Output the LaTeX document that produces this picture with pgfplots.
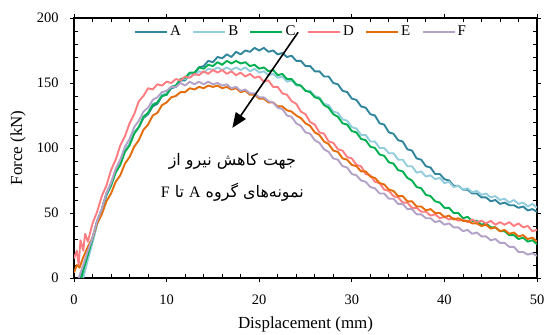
\documentclass[border=0pt]{standalone}
\usepackage{fontspec}
\setmainfont{Liberation Serif}
\newfontfamily\arabicfont[Script=Arabic]{DejaVu Sans}
\TeXXeTstate=1
\usepackage{pgfplots}
\pgfplotsset{compat=1.18}
\usetikzlibrary{arrows.meta,calc}
\definecolor{cA}{HTML}{31859C}
\definecolor{cB}{HTML}{93CDDD}
\definecolor{cC}{HTML}{00B050}
\definecolor{cD}{HTML}{FF7C80}
\definecolor{cE}{HTML}{E46C0A}
\definecolor{cF}{HTML}{B3A2C7}
\begin{document}
\begin{tikzpicture}
\begin{axis}[
  scale only axis, width=463bp, height=260bp,
  xmin=0, xmax=50, ymin=0, ymax=200,
  xtick={0,10,...,50}, ytick={0,50,...,200},
  minor x tick num=4, minor y tick num=4,
  tick align=outside, major tick length=4bp, minor tick length=-4bp,
  tick style={black, line width=0.8bp},
  axis line style={black, line width=1.6bp},
  /pgf/number format/assume math mode=true,
  ticklabel style={font=\fontsize{14.5}{16}\selectfont},
  xticklabel style={yshift=-9bp},
  yticklabel style={xshift=-8bp},
  xlabel={Displacement (mm)}, ylabel={Force (kN)},
  label style={font=\fontsize{17}{19}\selectfont},
  xlabel style={at={(axis description cs:0.5,-0.177)}, anchor=center},
  ylabel style={at={(axis description cs:-0.121,0.5)}, anchor=center},
  legend style={at={(0.49,0.985)}, anchor=north, draw=none, fill=none,
    legend columns=6, font=\fontsize{15}{17}\selectfont,
    /tikz/every even column/.append style={column sep=9bp}},
  legend image code/.code={\draw[#1, line width=2.4bp] (0bp,0bp) -- (32bp,0bp);},
  every axis plot/.append style={line width=1.9bp, line join=round},
]
\addplot[cA] coordinates {
(0.7,0)(1,6)(1.5,19)(2,31)(2.5,44)(3,53)(3.5,65)(4,73)(4.5,83)(5,90)(5.5,98)(6,103)(6.5,112)(7,116)(7.5,123)(8,126)(8.5,132)(9,134)(9.5,140)(10,141)(10.5,146)(11,147)(11.5,152)(12,152)(12.5,157)(13,157)(13.5,162)(14,163)(14.5,167)(15,166)(15.5,170)(16,169)(16.5,172)(17,170)(17.5,174)(18,172)(18.5,175)(19,174)(19.5,177)(20,175)(20.5,177)(21,174)(21.5,175)(22,172)(22.5,173)(23,170)(23.5,171)(24,167)(24.5,167)(25,163)(25.5,163)(26,159)(26.5,159)(27,155)(27.5,155)(28,150)(28.5,149)(29,144)(29.5,143)(30,138)(30.5,137)(31,132)(31.5,131)(32,126)(32.5,125)(33,119)(33.5,118)(34,112)(34.5,111)(35,106)(35.5,105)(36,99)(36.5,98)(37,92)(37.5,91)(38,86)(38.5,85)(39,80)(39.5,80)(40,76)(40.5,75)(41,71)(41.5,71)(42,68)(42.5,68)(43,65)(43.5,65)(44,62)(44.5,62)(45,59)(45.5,60)(46,57)(46.5,58)(47,56)(47.5,56)(48,54)(48.5,55)(49,52)(49.5,53)(50,51)
};
\addlegendentry{A}
\addplot[cB] coordinates {
(1.0,0)(1.5,14)(2,27)(2.5,41)(3,51)(3.5,63)(4,71)(4.5,82)(5,88)(5.5,98)(6,103)(6.5,112)(7,116)(7.5,124)(8,127)(8.5,134)(9,135)(9.5,141)(10,142)(10.5,147)(11,148)(11.5,153)(12,153)(12.5,157)(13,156)(13.5,159)(14,158)(14.5,161)(15,160)(15.5,162)(16,160)(16.5,162)(17,160)(17.5,162)(18,160)(18.5,162)(19,159)(19.5,161)(20,158)(20.5,159)(21,156)(21.5,157)(22,154)(22.5,155)(23,151)(23.5,152)(24,148)(24.5,148)(25,144)(25.5,144)(26,140)(26.5,139)(27,134)(27.5,133)(28,128)(28.5,127)(29,122)(29.5,121)(30,116)(30.5,115)(31,110)(31.5,110)(32,105)(32.5,105)(33,100)(33.5,100)(34,96)(34.5,96)(35,91)(35.5,91)(36,86)(36.5,86)(37,81)(37.5,82)(38,78)(38.5,79)(39,76)(39.5,77)(40,73)(40.5,74)(41,70)(41.5,71)(42,68)(42.5,69)(43,66)(43.5,67)(44,64)(44.5,65)(45,62)(45.5,63)(46,60)(46.5,61)(47,58)(47.5,60)(48,57)(48.5,58)(49,55)(49.5,57)(50,54)
};
\addlegendentry{B}
\addplot[cC] coordinates {
(0.8,0)(1,6)(1.5,18)(2,30)(2.5,43)(3,52)(3.5,64)(4,71)(4.5,81)(5,87)(5.5,97)(6,102)(6.5,111)(7,116)(7.5,124)(8,127)(8.5,133)(9,135)(9.5,140)(10,141)(10.5,147)(11,148)(11.5,153)(12,154)(12.5,158)(13,158)(13.5,162)(14,161)(14.5,164)(15,163)(15.5,166)(16,164)(16.5,167)(17,165)(17.5,167)(18,165)(18.5,166)(19,163)(19.5,164)(20,161)(20.5,162)(21,159)(21.5,160)(22,156)(22.5,157)(23,153)(23.5,153)(24,149)(24.5,148)(25,144)(25.5,143)(26,139)(26.5,138)(27,133)(27.5,131)(28,126)(28.5,124)(29,119)(29.5,118)(30,113)(30.5,112)(31,107)(31.5,106)(32,101)(32.5,100)(33,95)(33.5,94)(34,89)(34.5,88)(35,83)(35.5,82)(36,77)(36.5,75)(37,70)(37.5,69)(38,64)(38.5,63)(39,59)(39.5,58)(40,54)(40.5,54)(41,50)(41.5,50)(42,46)(42.5,47)(43,44)(43.5,44)(44,41)(44.5,42)(45,39)(45.5,39)(46,36)(46.5,36)(47,33)(47.5,33)(48,30)(48.5,31)(49,28)(49.5,29)(50,26)
};
\addlegendentry{C}
\addplot[cD] coordinates {
(0,15)(0.3,21)(0.5,10)(0.7,29)(1,21)(1.2,34)(1.5,28)(2,42)(2.5,51)(3,63)(3.5,71)(4,83)(4.5,91)(5,102)(5.5,109)(6,119)(6.5,126)(7,136)(7.5,140)(8,146)(8.5,145)(9,149)(9.5,148)(10,151)(10.5,150)(11,153)(11.5,152)(12,155)(12.5,154)(13,157)(13.5,156)(14,159)(14.5,157)(15,160)(15.5,158)(16,160)(16.5,157)(17,159)(17.5,156)(18,158)(18.5,155)(19,157)(19.5,154)(20,155)(20.5,151)(21,152)(21.5,147)(22,147)(22.5,142)(23,141)(23.5,136)(24,134)(24.5,128)(25,126)(25.5,120)(26,118)(26.5,112)(27,111)(27.5,105)(28,104)(28.5,99)(29,98)(29.5,93)(30,92)(30.5,87)(31,86)(31.5,80)(32,79)(32.5,74)(33,73)(33.5,68)(34,67)(34.5,63)(35,62)(35.5,58)(36,58)(36.5,54)(37,54)(37.5,51)(38,51)(38.5,48)(39,49)(39.5,46)(40,47)(40.5,45)(41,46)(41.5,44)(42,45)(42.5,43)(43,45)(43.5,43)(44,44)(44.5,42)(45,44)(45.5,41)(46,43)(46.5,41)(47,43)(47.5,40)(48,42)(48.5,39)(49,40)(49.5,36)(50,37)
};
\addlegendentry{D}
\addplot[cE] coordinates {
(0,4)(0.3,10)(0.6,8)(1,16)(1.5,24)(2,31)(2.5,42)(3,49)(3.5,59)(4,65)(4.5,74)(5,79)(5.5,88)(6,93)(6.5,101)(7,106)(7.5,114)(8,118)(8.5,125)(9,127)(9.5,133)(10,135)(10.5,139)(11,140)(11.5,143)(12,143)(12.5,146)(13,145)(13.5,147)(14,146)(14.5,148)(15,147)(15.5,148)(16,146)(16.5,147)(17,145)(17.5,146)(18,143)(18.5,144)(19,141)(19.5,141)(20,138)(20.5,138)(21,135)(21.5,135)(22,132)(22.5,132)(23,129)(23.5,128)(24,125)(24.5,123)(25,119)(25.5,117)(26,112)(26.5,110)(27,105)(27.5,103)(28,98)(28.5,97)(29,92)(29.5,91)(30,87)(30.5,86)(31,82)(31.5,82)(32,78)(32.5,77)(33,73)(33.5,72)(34,68)(34.5,67)(35,63)(35.5,63)(36,59)(36.5,59)(37,55)(37.5,55)(38,52)(38.5,53)(39,50)(39.5,50)(40,47)(40.5,48)(41,45)(41.5,46)(42,44)(42.5,44)(43,42)(43.5,42)(44,40)(44.5,41)(45,38)(45.5,39)(46,36)(46.5,37)(47,34)(47.5,35)(48,32)(48.5,33)(49,30)(49.5,31)(50,28)
};
\addlegendentry{E}
\addplot[cF] coordinates {
(0.5,0)(0.8,6)(1,10)(1.5,21)(2,31)(2.5,44)(3,53)(3.5,65)(4,73)(4.5,84)(5,91)(5.5,101)(6,107)(6.5,116)(7,121)(7.5,128)(8,131)(8.5,137)(9,139)(9.5,143)(10,144)(10.5,147)(11,147)(11.5,150)(12,148)(12.5,151)(13,149)(13.5,151)(14,149)(14.5,151)(15,149)(15.5,150)(16,148)(16.5,149)(17,146)(17.5,147)(18,144)(18.5,145)(19,142)(19.5,142)(20,139)(20.5,139)(21,136)(21.5,135)(22,131)(22.5,130)(23,125)(23.5,124)(24,119)(24.5,117)(25,112)(25.5,111)(26,106)(26.5,104)(27,99)(27.5,97)(28,92)(28.5,91)(29,86)(29.5,85)(30,80)(30.5,79)(31,75)(31.5,74)(32,70)(32.5,69)(33,65)(33.5,65)(34,61)(34.5,61)(35,57)(35.5,57)(36,53)(36.5,53)(37,49)(37.5,49)(38,46)(38.5,46)(39,43)(39.5,44)(40,41)(40.5,42)(41,39)(41.5,39)(42,36)(42.5,37)(43,34)(43.5,35)(44,32)(44.5,32)(45,29)(45.5,30)(46,27)(46.5,27)(47,24)(47.5,24)(48,20)(48.5,20)(49,18)(49.5,19)(50,17)
};
\addlegendentry{F}
\draw[-{Triangle[length=15bp,width=12bp]}, line width=1.6bp] (axis cs:24.2,189) -- (axis cs:17.1,115.5);
\node[font=\arabicfont\fontsize{16}{32}\selectfont, align=center] at (axis cs:17.1,77.5)
  {\beginR جهت کاهش نیرو از\endR\\\beginR نمونه‌های گروه {\rmfamily A} تا {\rmfamily F}\endR};
\end{axis}
\pgfresetboundingbox
\path[use as bounding box] ($(current axis.south west)+(-74bp,-56bp)$) rectangle ($(current axis.north east)+(8bp,18bp)$);
\end{tikzpicture}
\end{document}
